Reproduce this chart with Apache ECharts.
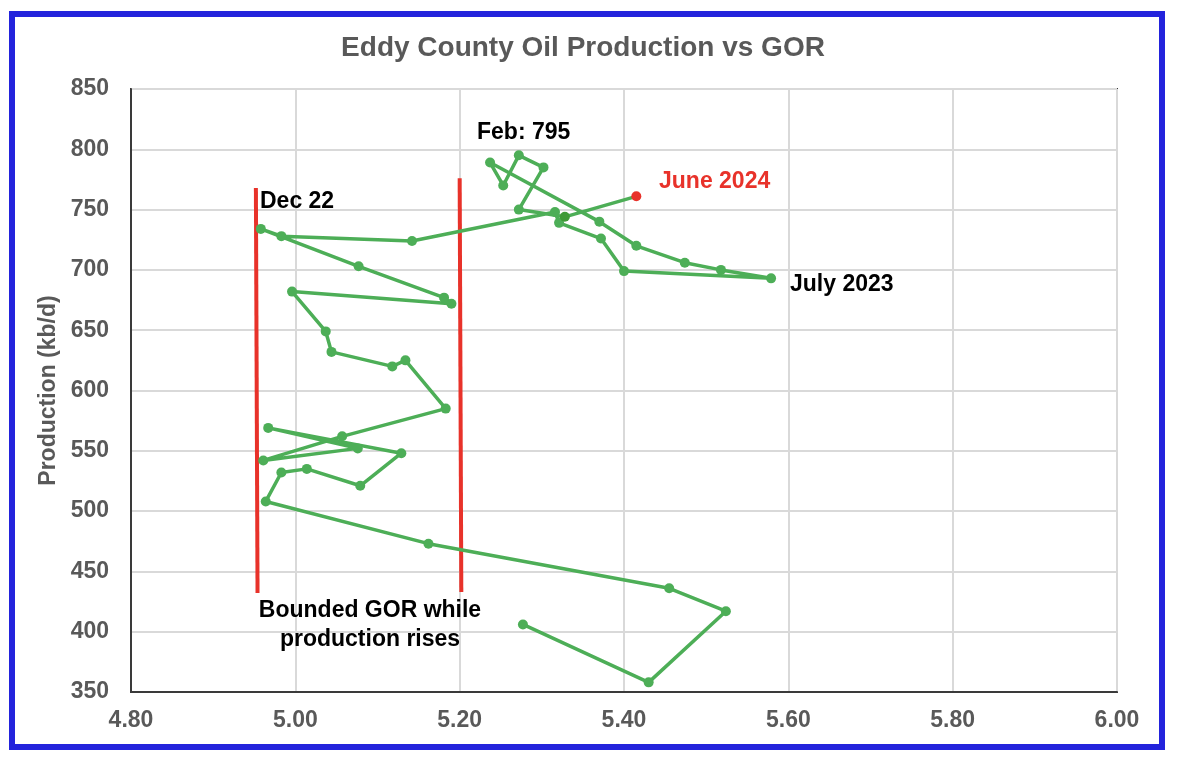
<!DOCTYPE html>
<html>
<head>
<meta charset="utf-8">
<script src="https://cdn.jsdelivr.net/npm/echarts@6/dist/echarts.min.js"></script>
<style>
  html, body { margin: 0; padding: 0; background: #ffffff; }
  #chart { width: 1180px; height: 762px; }
</style>
</head>
<body>
<div id="chart"></div>
<script>
// Months Jan 2021 .. Jun 2024
const months = [
  'Jan 21','Feb 21','Mar 21','Apr 21','May 21','Jun 21','Jul 21','Aug 21','Sep 21','Oct 21','Nov 21','Dec 21',
  'Jan 22','Feb 22','Mar 22','Apr 22','May 22','Jun 22','Jul 22','Aug 22','Sep 22','Oct 22','Nov 22','Dec 22',
  'Jan 23','Feb 23','Mar 23','Apr 23','May 23','Jun 23','Jul 23','Aug 23','Sep 23','Oct 23','Nov 23','Dec 23',
  'Jan 24','Feb 24','Mar 24','Apr 24','May 24','Jun 24'
];
// GOR (x)
const gor = [
  5.277, 5.430, 5.524, 5.455, 5.162, 4.964, 4.983, 5.014, 5.079, 5.129, 4.967, 5.076,
  4.961, 5.057, 5.183, 5.134, 5.118, 5.044, 5.037, 4.996, 5.190, 5.181, 5.077, 4.958,
  4.983, 5.142, 5.316, 5.321, 5.372, 5.400, 5.579, 5.518, 5.474, 5.415, 5.370, 5.237,
  5.253, 5.272, 5.302, 5.272, 5.328, 5.415
];
// Oil production, kb/d (y)
const production = [
  406, 358, 417, 436, 473, 508, 532, 535, 521, 548, 569, 552,
  542, 562, 585, 625, 620, 632, 649, 682, 672, 677, 703, 734,
  728, 724, 748, 739, 726, 699, 693, 700, 706, 720, 740, 789,
  770, 795, 785, 750, 744, 761
];
// Red "bounded GOR" lines: [gor, production] endpoints
const boundLeftGor = [4.952, 4.954];
const boundLeftProd = [768, 432];
const boundRightGor = [5.200, 5.202];
const boundRightProd = [776, 433];

const xTicks = { min: 4.8, max: 6.0, interval: 0.2 };
const yTicks = { min: 350, max: 850, interval: 50 };

const GREEN = '#4dae57';
const RED = '#e8322a';
const GRAY = '#595959';
const FONT = "'Liberation Sans', Arial, Helvetica, sans-serif";

const points = gor.map((g, i) => {
  const p = { value: [g, production[i]], name: months[i] };
  if (i === gor.length - 1) p.itemStyle = { color: RED };
  if (i === gor.length - 2) p.itemStyle = { color: '#3f9a36' };
  return p;
});

const chart = echarts.init(document.getElementById('chart'), null, { renderer: 'canvas' });
chart.setOption({
  animation: false,
  backgroundColor: '#ffffff',
  title: {
    text: 'Eddy County Oil Production vs GOR',
    left: 578, top: 29, textAlign: 'center',
    textStyle: { fontFamily: FONT, fontSize: 28, fontWeight: 'bold', color: GRAY }
  },
  grid: {
    left: 131, right: 63, top: 89, bottom: 70,
    show: true, borderColor: '#3a3a3a', borderWidth: 2, backgroundColor: 'transparent'
  },
  xAxis: {
    type: 'value', min: xTicks.min, max: xTicks.max, interval: xTicks.interval,
    axisLine: { show: true, lineStyle: { color: '#3a3a3a', width: 2 } },
    axisTick: { show: false },
    splitLine: { show: true, lineStyle: { color: '#d9d9d9', width: 2 } },
    axisLabel: {
      margin: 17, fontFamily: FONT, fontSize: 23, fontWeight: 'bold', color: GRAY,
      formatter: v => v.toFixed(2)
    }
  },
  yAxis: {
    type: 'value', min: yTicks.min, max: yTicks.max, interval: yTicks.interval,
    name: 'Production (kb/d)', nameLocation: 'middle', nameGap: 68,
    nameTextStyle: { fontFamily: FONT, fontSize: 23, fontWeight: 'bold', color: GRAY },
    axisLine: { show: true, lineStyle: { color: '#3a3a3a', width: 2 } },
    axisTick: { show: false },
    splitLine: { show: true, lineStyle: { color: '#d9d9d9', width: 2 } },
    axisLabel: { margin: 22, fontFamily: FONT, fontSize: 23, fontWeight: 'bold', color: GRAY }
  },
  series: [
    {
      type: 'line', name: 'bound-left', silent: true, symbol: 'none', z: 1,
      data: boundLeftGor.map((g, i) => [g, boundLeftProd[i]]),
      lineStyle: { color: RED, width: 4 }
    },
    {
      type: 'line', name: 'bound-right', silent: true, symbol: 'none', z: 1,
      data: boundRightGor.map((g, i) => [g, boundRightProd[i]]),
      lineStyle: { color: RED, width: 4 }
    },
    {
      type: 'line', name: 'Eddy', z: 3,
      data: points,
      symbol: 'circle', symbolSize: 10,
      lineStyle: { color: GREEN, width: 3.5 },
      itemStyle: { color: GREEN }
    }
  ],
  graphic: [
    {
      type: 'rect', silent: true, z: 100,
      shape: { x: 12, y: 14, width: 1150, height: 733 },
      style: { fill: 'none', stroke: '#2323dc', lineWidth: 6 }
    },
    {
      type: 'text', left: 260, top: 190, z: 50,
      style: { text: 'Dec 22', fontFamily: FONT, fontSize: 23, fontWeight: 'bold', fill: '#000' }
    },
    {
      type: 'text', left: 477, top: 121, z: 50,
      style: { text: 'Feb: 795', fontFamily: FONT, fontSize: 23, fontWeight: 'bold', fill: '#000' }
    },
    {
      type: 'text', left: 659, top: 170, z: 50,
      style: { text: 'June 2024', fontFamily: FONT, fontSize: 23, fontWeight: 'bold', fill: RED }
    },
    {
      type: 'text', left: 790, top: 273, z: 50,
      style: { text: 'July 2023', fontFamily: FONT, fontSize: 23, fontWeight: 'bold', fill: '#000' }
    },
    {
      type: 'text', x: 370, y: 596, z: 50,
      style: {
        text: 'Bounded GOR while\nproduction rises', align: 'center', lineHeight: 29,
        fontFamily: FONT, fontSize: 23, fontWeight: 'bold', fill: '#000'
      }
    }
  ]
});
</script>
</body>
</html>
